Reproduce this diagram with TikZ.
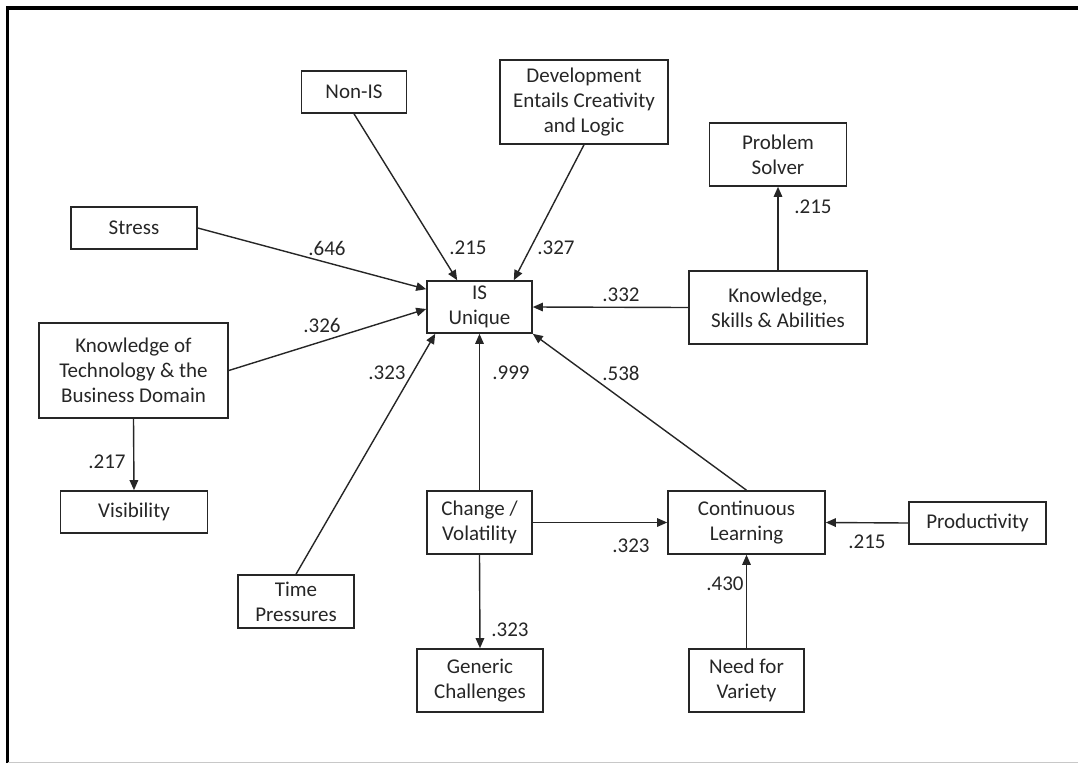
\documentclass[tikz,border=0pt]{standalone}
\usepackage{fontspec}
\setmainfont{Carlito}
\usetikzlibrary{arrows.meta}
\definecolor{ink}{HTML}{262626}
\definecolor{rim}{HTML}{000000}
\definecolor{pale}{HTML}{C8C8C8}
\tikzset{
  box/.style={draw=ink, line width=1.6pt, inner sep=0pt, align=center, text=ink, font=\fontsize{21}{25}\selectfont},
  link/.style={draw=ink, line width=1.4pt, -{Triangle[length=10pt,width=8.5pt]}},
  wt/.style={text=ink, inner sep=0pt, font=\fontsize{21}{25}\selectfont},
}
\begin{document}
\begin{tikzpicture}[x=1pt,y=-1pt]
  \useasboundingbox (0,0) rectangle (1078,763);
  \draw[rim, line width=3.5pt] (7.5,763) -- (7.5,8) -- (1078,8);
  \draw[pale, line width=1pt] (7.5,762) -- (1078,762);

  \node[box, minimum width=105, minimum height=52] (isu) at (479.5,307) {IS\\Unique};
  \node[box, minimum width=105, minimum height=42] (nonis) at (354,92) {Non-IS};
  \node[box, minimum width=168, minimum height=84] (dev) at (584,102) {Development\\Entails Creativity\\and Logic};
  \node[box, minimum width=126, minimum height=42] (stress) at (134,228) {Stress};
  \node[box, minimum width=189, minimum height=95] (ktb) at (133.5,370.5) {Knowledge of\\Technology \& the\\Business Domain};
  \node[box, minimum width=147, minimum height=42] (vis) at (134,512) {Visibility};
  \node[box, minimum width=137, minimum height=63] (ps) at (778,154.5) {Problem\\Solver};
  \node[box, minimum width=178, minimum height=73] (ksa) at (778,307.5) {Knowledge,\\Skills \& Abilities};
  \node[box, minimum width=116, minimum height=53] (time) at (296,601.5) {Time\\Pressures};
  \node[box, minimum width=105, minimum height=63] (chg) at (479.5,522.5) {Change /\\Volatility};
  \node[box, minimum width=126, minimum height=63] (gen) at (480,680.5) {Generic\\Challenges};
  \node[box, minimum width=157, minimum height=63] (cl) at (746.5,522.5) {Continuous\\Learning};
  \node[box, minimum width=137, minimum height=42] (prod) at (977.5,523) {Productivity};
  \node[box, minimum width=115, minimum height=63] (need) at (746.5,680.5) {Need for\\Variety};

  \draw[link] (stress.east) -- ([yshift=-9pt]isu.north west);
  \draw[link] (ktb.east) -- ([yshift=-2pt]isu.west);
  \draw[link] (nonis.south) -- ([xshift=31pt]isu.north west);
  \draw[link] (dev.south) -- ([xshift=-19pt]isu.north east);
  \draw[link] (ksa.west) -- (isu.east);
  \draw[link] (time.north) -- ([xshift=9pt]isu.south west);
  \draw[link] (chg.north) -- (isu.south);
  \draw[link] (cl.north) -- (isu.south east);
  \draw[link] (ksa.north) -- (ps.south);
  \draw[link] (ktb.south) -- (vis.north);
  \draw[link] (chg.east) -- (cl.west);
  \draw[link] (prod.west) -- (cl.east);
  \draw[link] (need.north) -- (cl.south);
  \draw[link] (chg.south) -- (gen.north);

  \node[wt] (w646) at (327,248) {.646};
  \node[wt] (w215a) at (468,248) {.215};
  \node[wt] (w327) at (556,248) {.327};
  \node[wt] (w326) at (322,325) {.326};
  \node[wt] (w323a) at (387,373) {.323};
  \node[wt] (w999) at (511,373) {.999};
  \node[wt] (w332) at (621,295) {.332};
  \node[wt] (w538) at (621,373) {.538};
  \node[wt] (w215b) at (813,207) {.215};
  \node[wt] (w217) at (107,462) {.217};
  \node[wt] (w323b) at (510,630) {.323};
  \node[wt] (w323c) at (631,546) {.323};
  \node[wt] (w215c) at (867,542) {.215};
  \node[wt] (w430) at (725,584) {.430};
\end{tikzpicture}
\end{document}
